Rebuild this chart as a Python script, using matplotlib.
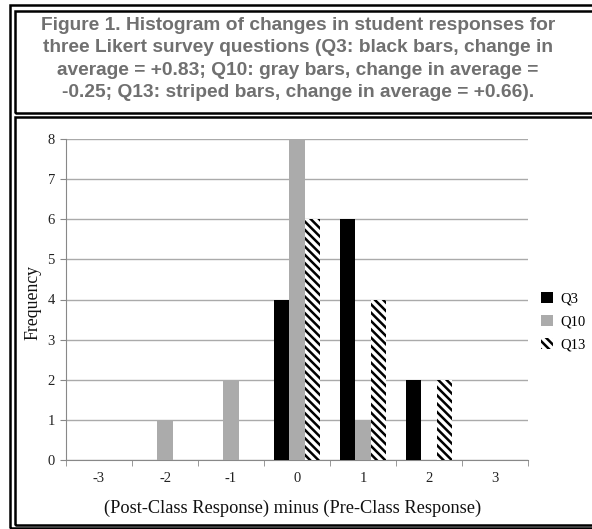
import numpy as np
import matplotlib.pyplot as plt
from matplotlib.patches import Rectangle

# data
changes = [-3, -2, -1, 0, 1, 2, 3]
q3 = [0, 0, 0, 4, 6, 2, 0]
q10 = [0, 1, 2, 8, 1, 0, 0]
q13 = [0, 0, 0, 6, 4, 2, 0]
series_names = ['Q3', 'Q10', 'Q13']

title = ('Figure 1. Histogram of changes in student responses for\n'
         'three Likert survey questions (Q3: black bars, change in\n'
         'average = +0.83; Q10: gray bars, change in average =\n'
         '-0.25; Q13: striped bars, change in average = +0.66).')

plt.rcParams['hatch.linewidth'] = 1.8
W, H = 592, 529
fig = plt.figure(figsize=(W / 100, H / 100), dpi=100)


def px_rect(x0, y0, x1, y1, lw=2.0):
    """Rectangle given in pixel coords (origin top-left)."""
    r = Rectangle((x0 / W, 1 - y1 / H), (x1 - x0) / W, (y1 - y0) / H,
                  transform=fig.transFigure, fill=False, edgecolor='black',
                  linewidth=lw)
    fig.patches.append(r)


# double frame: outer box, title box and chart box
px_rect(10, 5, 600, 528, lw=1.8)
px_rect(15, 11, 600, 113, lw=1.8)
px_rect(15, 117, 600, 525, lw=1.8)

fig.text(298 / W, 1 - 59 / H, title, ha='center', va='center',
         family='Liberation Sans', fontweight='bold', fontsize=13.8,
         color='#707070', linespacing=1.4)

ax = fig.add_axes([66 / W, 1 - 460 / H, 462 / W, 321 / H])

x = np.arange(len(changes))
w = 0.23
ax.bar(x - w, q3, width=w, color='black', label=series_names[0], zorder=3)
ax.bar(x, q10, width=w, color='#ababab', label=series_names[1], zorder=3)
ax.bar(x + w, q13, width=w, color='white', edgecolor='black', linewidth=0,
       hatch='\\\\\\\\', label=series_names[2], zorder=3)

ax.set_xlim(-0.5, len(changes) - 0.5)
ax.set_ylim(0, 8)
ax.set_yticks(range(0, 9))
ax.set_xticks(x)
ax.set_xticklabels([str(c) for c in changes])
ax.set_xticks(np.arange(-0.5, len(changes), 1), minor=True)
ax.tick_params(axis='x', which='major', length=0, pad=9)
ax.tick_params(axis='x', which='minor', length=4, color='#888888')
ax.tick_params(axis='y', length=4, color='#888888', pad=4)
for lab in ax.get_xticklabels() + ax.get_yticklabels():
    lab.set_family('Liberation Serif')
    lab.set_fontsize(10.5)
    lab.set_color('#222222')

ax.grid(axis='y', color='#aaaaaa', linewidth=1.0, zorder=0)
for s in ['top', 'right']:
    ax.spines[s].set_visible(False)
for s in ['left', 'bottom']:
    ax.spines[s].set_color('#888888')

ax.set_ylabel('Frequency', family='Liberation Serif', fontsize=12.8,
              color='#111111')
ax.yaxis.set_label_coords(-0.053, 0.49)
ax.set_xlabel('(Post-Class Response) minus (Pre-Class Response)',
              family='Liberation Serif', fontsize=13.2, color='#111111')
ax.xaxis.set_label_coords(0.49, -0.125)

fig.legend(loc='center left', bbox_to_anchor=(541 / W, 1 - 322 / H),
           frameon=False, borderpad=0, borderaxespad=0, handlelength=0.82,
           handleheight=0.78, handletextpad=0.48, labelspacing=0.64,
           prop={'family': 'Liberation Serif', 'size': 10.5})

fig.savefig('out.png', dpi=100, facecolor='white')
